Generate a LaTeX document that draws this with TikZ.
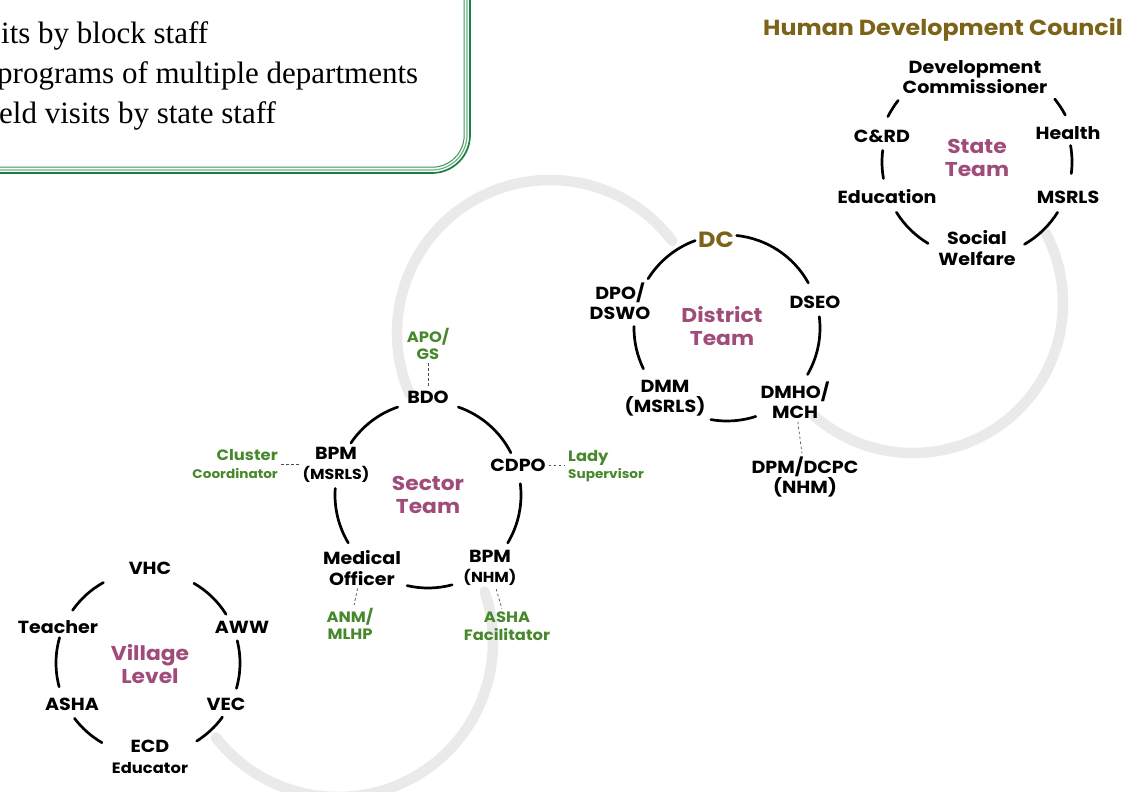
\documentclass[tikz,border=0pt]{standalone}
\usepackage{fontspec}
\newfontfamily\labf{Poppins}[FakeStretch=1.09]
\newfontfamily\serf{Liberation Serif}
\definecolor{olivec}{RGB}{125,99,24}
\definecolor{pinkc}{RGB}{160,76,122}
\definecolor{greenc}{RGB}{72,136,44}
\definecolor{greyc}{RGB}{234,234,234}
\definecolor{boxg1}{RGB}{30,125,66}
\definecolor{boxg2}{RGB}{100,182,125}
\newcommand{\smf}{\fontsize{12.5}{15}\selectfont}
\newcommand{\mdf}{\fontsize{14.5}{17}\selectfont}
\newcommand{\carc}[4]{\draw[arcln] ([shift={(#1)}] -#2:#4) arc[start angle=-#2, end angle=-#3, radius=#4];}
\newcommand{\garc}[4]{\draw[greyln] ([shift={(#1)}] -#2:#4) arc[start angle=-#2, end angle=-#3, radius=#4];}
\tikzset{
  lbl/.style={font=\labf\bfseries\fontsize{17.5}{20.5}\selectfont, align=center, inner sep=1pt, text=black},
  team/.style={font=\labf\bfseries\fontsize{20}{23.5}\selectfont, align=center, inner sep=1pt, text=pinkc},
  grn/.style={font=\labf\bfseries\fontsize{15}{17.5}\selectfont, align=center, inner sep=1pt, text=greenc},
  arcln/.style={line width=2.7pt, line cap=round, black},
  greyln/.style={line width=10.5pt, line cap=round, greyc},
  dsh/.style={line width=0.7pt, dash pattern=on 2.5pt off 2.5pt, black!70, shorten <=2pt, shorten >=2pt},
  boxtext/.style={font=\serf\fontsize{31}{39}\selectfont, anchor=base west, inner sep=0pt}
}
\begin{document}
\begin{tikzpicture}[x=1pt,y=-1pt]
\useasboundingbox (0,0) rectangle (1127,792);
\clip (0,0) rectangle (1127,792);
\fill[white] (0,0) rectangle (1127,792);
% top-left box
\draw[boxg1, line width=1.7pt, rounded corners=38pt] (-40,-40) rectangle (470,173);
\draw[boxg2, line width=1.2pt, rounded corners=35pt] (-40,-40) rectangle (467,170);
\draw[boxg1!85, line width=1pt, rounded corners=32pt] (-40,-40) rectangle (464.2,167.2);
\node[boxtext] (l1) at (1,44) {its by block staff};
\node[boxtext] (l2) at (-3,83) {programs of multiple departments};
\node[boxtext] (l3) at (-1,123) {eld visits by state staff};
% grey connecting loops
\coordinate (g1) at (338,642);
\coordinate (g2) at (550,333);
\coordinate (g3) at (913,303);
\garc{g1}{218}{379}{155}
\garc{g2}{203.5}{37}{153}
\garc{g3}{229}{387.6}{150}
% centres of teams
\coordinate (cs) at (977,162);
\coordinate (cd) at (727,328);
\coordinate (cx) at (428,495);
\coordinate (cv) at (148,663);
% state team
\node[font=\labf\bfseries\fontsize{21.8}{25}\selectfont, text=olivec, inner sep=0pt] (hdc) at (943,30) {Human Development Council};
\node[lbl] (devc) at (975,77) {Development\\Commissioner};
\node[lbl] (crd) at (882,136) {C\&RD};
\node[lbl] (health) at (1068,133) {Health};
\node[team] (steam) at (977,158) {State\\Team};
\node[lbl] (edu) at (887,197) {Education};
\node[lbl] (msrls) at (1068,197) {MSRLS};
\node[lbl] (social) at (977,248) {Social\\Welfare};
\carc{cs}{142}{153}{100}
\carc{cs}{28}{39}{100}
\carc{cs}{173}{190}{95}
\carc{cs}{353}{370}{95}
\carc{cs}{212}{239}{95}
\carc{cs}{300}{328}{95}
% district team
\node[font=\labf\bfseries\fontsize{22}{25}\selectfont, text=olivec, inner sep=1pt] (dc) at (716,240) {DC};
\node[lbl] (dpo) at (620,301) {DPO/\\DSWO};
\node[team] (dteam) at (722,326) {District\\Team};
\node[lbl] (dseo) at (815,302) {DSEO};
\node[lbl] (dmm) at (665,398) {DMM\\(MSRLS)};
\node[lbl] (dmho) at (795,400) {DMHO/\\MCH};
\node[lbl] (dpm) at (805,477) {DPM/DCPC\\(NHM)};
\carc{cd}{110}{148}{93}
\carc{cd}{29}{84}{93}
\carc{cd}{179}{206}{93}
\carc{cd}{330}{367}{93}
\carc{cd}{260}{288}{93}
\draw[dsh] (dmho) -- (dpm);
% sector team
\node[grn] (apo) at (428,344) {APO/\\GS};
\node[lbl] (bdo) at (428,397) {BDO};
\node[lbl] (bpmm) at (336,465) {BPM\\{\mdf (MSRLS)}};
\node[grn, align=right, anchor=east] (clus) at (279,464) {Cluster\\{\smf Coordinator}};
\node[lbl] (cdpo) at (518,465) {CDPO};
\node[grn, align=left, anchor=west] (lady) at (567,466) {Lady\\{\smf Supervisor}};
\node[team] (xteam) at (428,495) {Sector\\Team};
\node[lbl] (mo) at (362,568) {Medical\\Officer};
\node[lbl] (bpmn) at (490,568) {BPM\\{\mdf (NHM)}};
\node[grn] (anm) at (350,624) {ANM/\\MLHP};
\node[grn] (ashaf) at (507,626) {ASHA\\Facilitator};
\carc{cx}{109}{146}{93}
\carc{cx}{27}{71}{93}
\carc{cx}{176}{211}{93}
\carc{cx}{329}{367}{93}
\carc{cx}{257}{285}{93}
\draw[dsh] (apo) -- (bdo);
\draw[dsh] (clus.east) -- (bpmm.west |- clus.east);
\draw[dsh] (cdpo.east) -- (lady.west |- cdpo.east);
\draw[dsh] (mo) -- (anm);
\draw[dsh] (bpmn) -- (ashaf);
% village level
\node[lbl] (vhc) at (150,568) {VHC};
\node[lbl] (teacher) at (58,627) {Teacher};
\node[lbl] (aww) at (242,627) {AWW};
\node[team] (vlev) at (150,664) {Village\\Level};
\node[lbl] (asha) at (72,704) {ASHA};
\node[lbl] (vec) at (226,704) {VEC};
\node[lbl] (ecd) at (150,757) {ECD\\{\fontsize{15}{17}\selectfont Educator}};
\carc{cv}{119}{145}{92}
\carc{cv}{32}{60}{92}
\carc{cv}{164}{195}{92}
\carc{cv}{344}{374}{92}
\carc{cv}{217}{240}{92}
\carc{cv}{302}{324}{92}
\end{tikzpicture}
\end{document}
